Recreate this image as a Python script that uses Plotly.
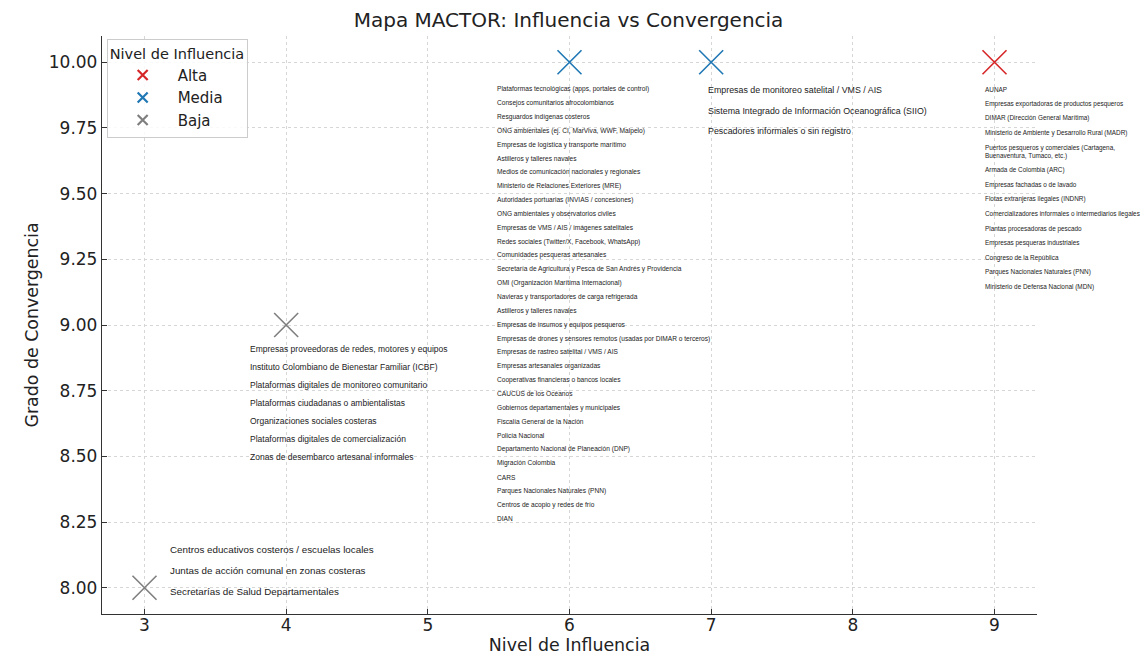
import plotly.graph_objects as go

# ---------------- data ----------------
actores = [
    # Alta (influencia 9, convergencia 10)
    "AUNAP",
    "Empresas exportadoras de productos pesqueros",
    "DIMAR (Dirección General Marítima)",
    "Ministerio de Ambiente y Desarrollo Rural (MADR)",
    "Puertos pesqueros y comerciales (Cartagena,<br>Buenaventura, Tumaco, etc.)",
    "Armada de Colombia (ARC)",
    "Empresas fachadas o de lavado",
    "Flotas extranjeras ilegales (INDNR)",
    "Comercializadores informales o intermediarios ilegales",
    "Plantas procesadoras de pescado",
    "Empresas pesqueras industriales",
    "Congreso de la República",
    "Parques Nacionales Naturales (PNN)",
    "Ministerio de Defensa Nacional (MDN)",
    # Media (influencia 7)
    "Empresas de monitoreo satelital / VMS / AIS",
    "Sistema Integrado de Información Oceanográfica (SIIO)",
    "Pescadores informales o sin registro",
    # Media (influencia 6)
    "Plataformas tecnológicas (apps, portales de control)",
    "Consejos comunitarios afrocolombianos",
    "Resguardos indígenas costeros",
    "ONG ambientales (ej. CI, MarViva, WWF, Malpelo)",
    "Empresas de logística y transporte marítimo",
    "Astilleros y talleres navales",
    "Medios de comunicación nacionales y regionales",
    "Ministerio de Relaciones Exteriores (MRE)",
    "Autoridades portuarias (INVIAS / concesiones)",
    "ONG ambientales y observatorios civiles",
    "Empresas de VMS / AIS / imágenes satelitales",
    "Redes sociales (Twitter/X, Facebook, WhatsApp)",
    "Comunidades pesqueras artesanales",
    "Secretaría de Agricultura y Pesca de San Andrés y Providencia",
    "OMI (Organización Marítima Internacional)",
    "Navieras y transportadores de carga refrigerada",
    "Astilleros y talleres navales",
    "Empresas de insumos y equipos pesqueros",
    "Empresas de drones y sensores remotos (usadas por DIMAR o terceros)",
    "Empresas de rastreo satelital / VMS / AIS",
    "Empresas artesanales organizadas",
    "Cooperativas financieras o bancos locales",
    "CAUCUS de los Océanos",
    "Gobiernos departamentales y municipales",
    "Fiscalía General de la Nación",
    "Policía Nacional",
    "Departamento Nacional de Planeación (DNP)",
    "Migración Colombia",
    "CARS",
    "Parques Nacionales Naturales (PNN)",
    "Centros de acopio y redes de frío",
    "DIAN",
    # Baja (influencia 4)
    "Empresas proveedoras de redes, motores y equipos",
    "Instituto Colombiano de Bienestar Familiar (ICBF)",
    "Plataformas digitales de monitoreo comunitario",
    "Plataformas ciudadanas o ambientalistas",
    "Organizaciones sociales costeras",
    "Plataformas digitales de comercialización",
    "Zonas de desembarco artesanal informales",
    # Baja (influencia 3)
    "Centros educativos costeros / escuelas locales",
    "Juntas de acción comunal en zonas costeras",
    "Secretarías de Salud Departamentales",
]
influencia = [9] * 14 + [7] * 3 + [6] * 32 + [4] * 7 + [3] * 3
convergencia = [10] * 14 + [10] * 3 + [10] * 32 + [9] * 7 + [8] * 3
nivel = ["Alta"] * 14 + ["Media"] * 3 + ["Media"] * 32 + ["Baja"] * 7 + ["Baja"] * 3

niveles = ["Alta", "Media", "Baja"]
x_ticks = [3, 4, 5, 6, 7, 8, 9]
y_ticks = [8.0, 8.25, 8.5, 8.75, 9.0, 9.25, 9.5, 9.75, 10.0]

# ---------------- styles ----------------
colores = {"Alta": "#d62728", "Media": "#1f77b4", "Baja": "#7f7f7f"}
# label block placement per influence level (pixel offsets)
estilo_etiquetas = {
    9: dict(dx=-12, dy=27, step=14.6, size=6.4, line=8),
    7: dict(dx=-5, dy=28, step=20.5, size=8.85, line=10),
    6: dict(dx=-75, dy=27, step=13.85, size=6.6, line=8),
    4: dict(dx=-38, dy=24, step=18.0, size=8.5, line=10),
    3: dict(dx=23, dy=-38, step=21.0, size=9.8, line=11),
}
FONT_AX = "DejaVu Sans"
TXT = "#222222"

fig = go.Figure()

for nv in niveles:
    pts = []
    for x, y, n in zip(influencia, convergencia, nivel):
        if n == nv and (x, y) not in pts:
            pts.append((x, y))
    fig.add_trace(go.Scatter(
        x=[p[0] for p in pts], y=[p[1] for p in pts], mode="markers", name=nv,
        marker=dict(symbol="x-thin", size=24, color=colores[nv],
                    line=dict(width=1.6, color=colores[nv])),
        hoverinfo="skip", showlegend=False, legendgroup=nv,
    ))
    # legend entry with a smaller marker (as in the reference legend)
    fig.add_trace(go.Scatter(
        x=[None], y=[None], mode="markers", name=nv, legendgroup=nv,
        marker=dict(symbol="x-thin", size=10, color=colores[nv],
                    line=dict(width=2.2, color=colores[nv])),
        hoverinfo="skip",
    ))

annotations = []
offsets = {}
for act, x, y in zip(actores, influencia, convergencia):
    st = estilo_etiquetas[x]
    nlines = act.count("<br>") + 1
    key = (x, y)
    if key not in offsets:
        pos = st["dy"]
    else:
        prev_pos, prev_lines = offsets[key]
        pos = prev_pos + st["step"] + (prev_lines - 1) * st["line"] / 2 + (nlines - 1) * st["line"] / 2
    offsets[key] = (pos, nlines)
    annotations.append(dict(
        x=x, y=y, xref="x", yref="y", text=act, showarrow=False,
        xanchor="left", yanchor="middle", align="left",
        xshift=st["dx"], yshift=-pos,
        font=dict(family="Liberation Sans, Arial, sans-serif", size=st["size"], color=TXT),
    ))

axis_common = dict(
    showgrid=True, gridcolor="#d6d6d6", griddash="3px,3px", gridwidth=1,
    showline=True, linecolor="#333333", linewidth=1.3,
    ticks="inside", ticklen=5, tickcolor="#333333", tickwidth=1,
    tickfont=dict(family=FONT_AX, size=17, color=TXT),
    zeroline=False, mirror=False, automargin=False,
)

fig.update_layout(
    width=1140, height=649,
    margin=dict(l=94, r=111, t=28, b=43),
    paper_bgcolor="white", plot_bgcolor="white",
    title=dict(text="Mapa MACTOR: Influencia vs Convergencia", x=0.4917, xanchor="center",
               y=0.9815, yanchor="middle",
               font=dict(family=FONT_AX, size=20, color=TXT)),
    xaxis=dict(range=[2.7, 9.3], tickvals=x_ticks, ticklabelstandoff=-5,
               title=dict(text="Nivel de Influencia", standoff=4,
                          font=dict(family=FONT_AX, size=17.4, color=TXT)),
               **axis_common),
    yaxis=dict(range=[7.9, 10.1], tickvals=y_ticks, tickformat=".2f",
               title=dict(text="Grado de Convergencia", standoff=5,
                          font=dict(family=FONT_AX, size=17.4, color=TXT)),
               **axis_common),
    legend=dict(
        title=dict(text="Nivel de Influencia", font=dict(family=FONT_AX, size=14.5, color=TXT)),
        font=dict(family=FONT_AX, size=15, color=TXT),
        x=0.005, y=0.995, xanchor="left", yanchor="top",
        bgcolor="rgba(255,255,255,0.85)", bordercolor="#cccccc", borderwidth=1,
        itemwidth=60, tracegroupgap=0,
    ),
    annotations=annotations,
    showlegend=True,
)

fig.write_html("out.html")
